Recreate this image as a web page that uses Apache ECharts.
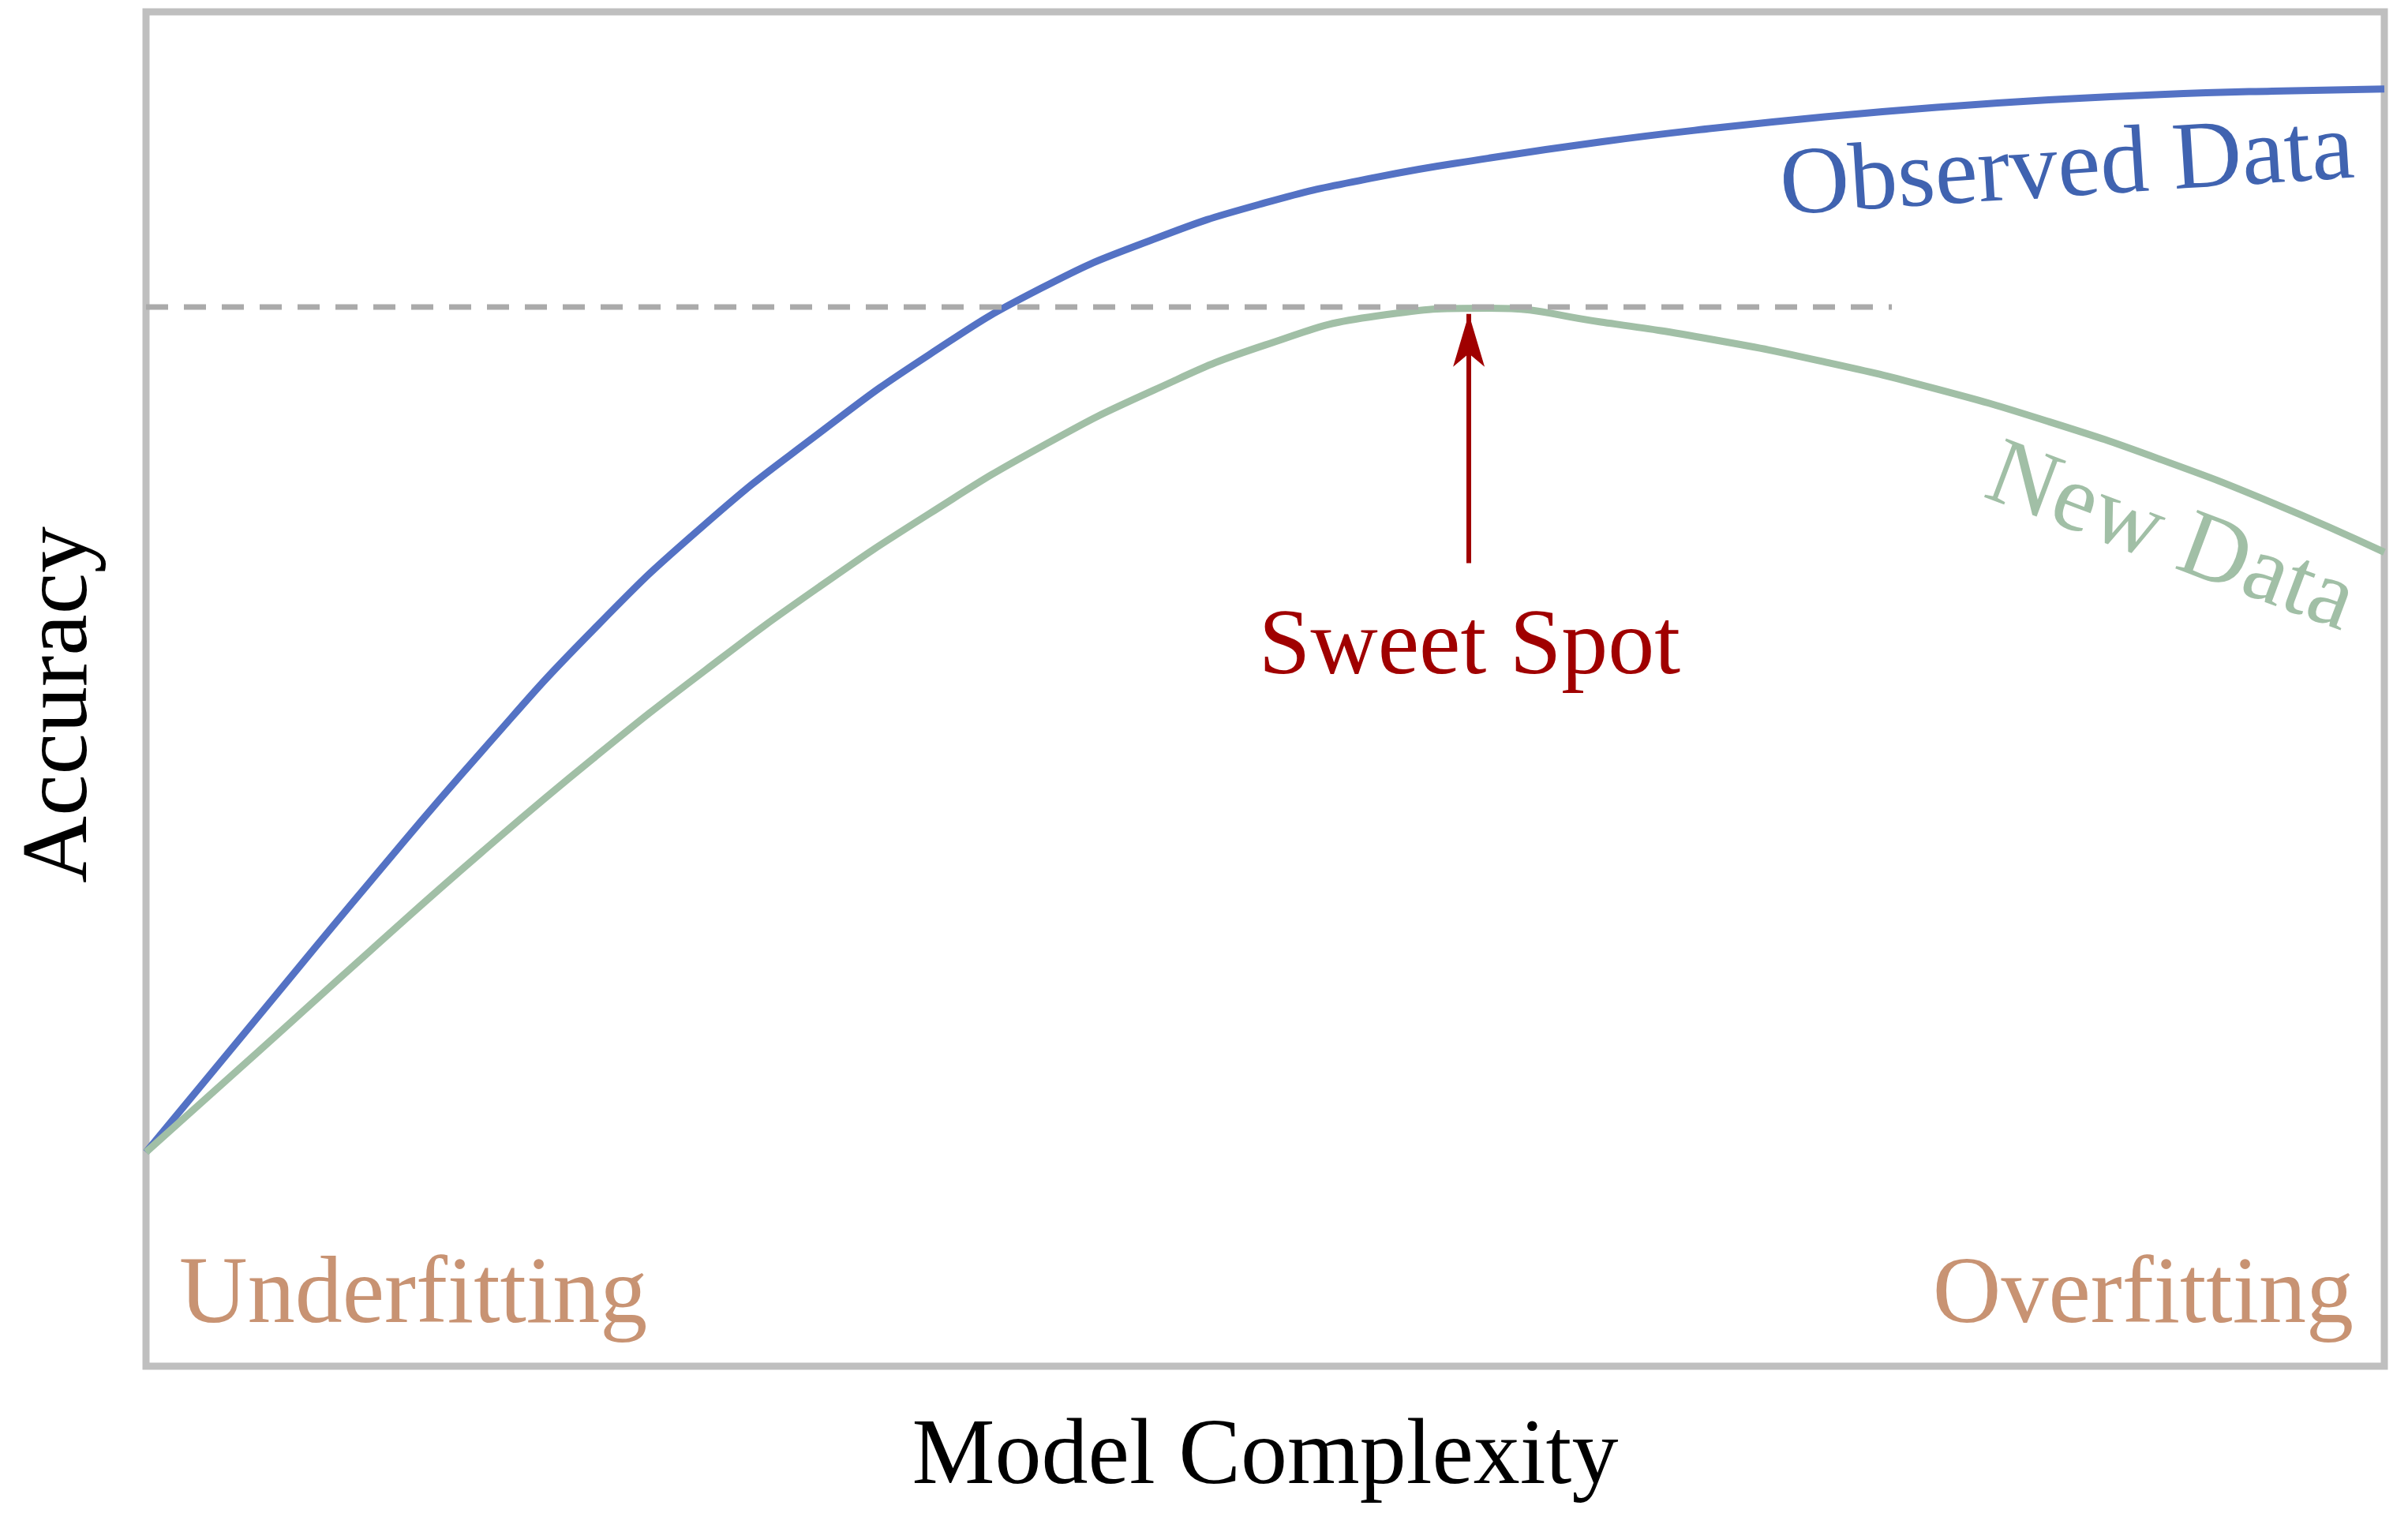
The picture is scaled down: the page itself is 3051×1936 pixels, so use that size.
<!DOCTYPE html>
<html>
<head>
<meta charset="utf-8">
<title>Model Complexity vs Accuracy</title>
<script src="https://cdn.jsdelivr.net/npm/echarts@6/dist/echarts.min.js"></script>
<style>
  html, body { margin: 0; padding: 0; background: #ffffff; }
  #chart { width: 3051px; height: 1936px; }
</style>
</head>
<body>
<div id="chart"></div>
<script>
// model complexity (0..100) and accuracy (0..100)
const complexity = [0, 5, 10, 15, 20, 25, 30, 35, 40, 45, 50, 55, 60, 65, 70, 75, 80, 85, 90, 95, 100];
const observedAcc = [15.8, 25.8, 35.75, 45.4, 54.4, 62.2, 68.8, 74.7, 79.6, 83.2, 85.9, 87.8, 89.2, 90.4, 91.4, 92.25, 92.95, 93.5, 93.9, 94.15, 94.3];
const newAcc = [15.8, 23.2, 30.65, 37.95, 44.9, 51.4, 57.45, 62.95, 67.9, 72.05, 75.4, 77.55, 78.12, 77.1, 75.8, 74.15, 72.15, 69.75, 66.95, 63.75, 60.1];

// sweet spot: peak of the new-data curve
const sweetX = 59.1;
const sweetLevel = 78.2;
const guideEndX = 78;
const arrowFrom = 59.3;
const arrowTo = 77.7;

const serif = '"Liberation Serif", "DejaVu Serif", serif';

function pairs(xs, ys) {
  return xs.map((x, i) => [x, ys[i]]);
}

const chart = echarts.init(document.getElementById('chart'), null, { renderer: 'canvas' });

const option = {
  animation: false,
  backgroundColor: '#ffffff',
  grid: {
    left: 185,
    right: 30,
    top: 15,
    bottom: 205,
    show: true,
    borderColor: '#bfbfbf',
    borderWidth: 9,
    backgroundColor: 'transparent',
    containLabel: false,
    outerBoundsMode: 'none'
  },
  xAxis: {
    type: 'value',
    min: 0,
    max: 100,
    name: 'Model Complexity',
    nameLocation: 'middle',
    nameGap: 58,
    nameTextStyle: { fontFamily: serif, fontSize: 118, color: '#000000' },
    axisLine: { show: false },
    axisTick: { show: false },
    axisLabel: { show: false },
    splitLine: { show: false }
  },
  yAxis: {
    type: 'value',
    min: 0,
    max: 100,
    name: 'Accuracy',
    nameLocation: 'middle',
    nameGap: 48,
    nameTextStyle: { fontFamily: serif, fontSize: 118, color: '#000000', padding: [0, 40, 0, 0] },
    axisLine: { show: false },
    axisTick: { show: false },
    axisLabel: { show: false },
    splitLine: { show: false }
  },
  series: [
    {
      name: 'Observed Data',
      type: 'line',
      data: pairs(complexity, observedAcc),
      smooth: 0.5,
      symbol: 'none',
      lineStyle: { color: '#5472c4', width: 9 }
    },
    {
      name: 'New Data',
      type: 'line',
      data: pairs(complexity, newAcc),
      smooth: 0.5,
      symbol: 'none',
      lineStyle: { color: '#a1bfa6', width: 9 }
    },
    {
      name: 'guide',
      type: 'line',
      data: [[0, sweetLevel], [guideEndX, sweetLevel]],
      symbol: 'none',
      lineStyle: { color: '#aaaaaa', width: 7, type: [28, 20] }
    },
    {
      name: 'arrow',
      type: 'line',
      data: [],
      markLine: {
        silent: true,
        symbol: ['none', 'arrow'],
        symbolSize: [30, 67],
        label: { show: false },
        lineStyle: { color: '#a00000', width: 6, type: 'solid' },
        emphasis: { disabled: true },
        data: [[{ coord: [sweetX, arrowFrom] }, { coord: [sweetX, arrowTo] }]]
      }
    }
  ],
  graphic: [
    {
      type: 'text', x: 2619, y: 216, rotation: 0.0646,
      style: { text: 'Observed Data', font: '122px ' + serif, fill: '#4063b0', align: 'center', verticalAlign: 'middle' }
    },
    {
      type: 'text', x: 2750, y: 684, rotation: -0.358,
      style: { text: 'New Data', font: '121px ' + serif, fill: '#a1bfa6', align: 'center', verticalAlign: 'middle' }
    },
    {
      type: 'text', x: 1862, y: 822,
      style: { text: 'Sweet Spot', font: '118px ' + serif, fill: '#a00000', align: 'center', verticalAlign: 'middle' }
    },
    {
      type: 'text', x: 227, y: 1643,
      style: { text: 'Underfitting', font: '120px ' + serif, fill: '#c89373', align: 'left', verticalAlign: 'middle' }
    },
    {
      type: 'text', x: 2982, y: 1643,
      style: { text: 'Overfitting', font: '120px ' + serif, fill: '#c89373', align: 'right', verticalAlign: 'middle' }
    }
  ]
};

chart.setOption(option);
</script>
</body>
</html>
